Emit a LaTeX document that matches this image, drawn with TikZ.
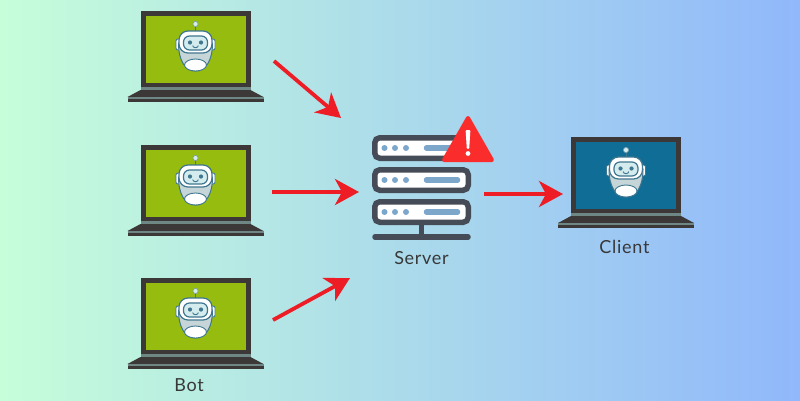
\documentclass[tikz,border=0pt]{standalone}
\usepackage{fontspec}
\setmainfont[LetterSpace=4]{Lato}
\usetikzlibrary{arrows.meta}
\definecolor{botgreen}{HTML}{95BC0E}
\definecolor{clientblue}{HTML}{106E96}
\definecolor{laptopdark}{HTML}{3D3838}
\definecolor{laptopstrip}{HTML}{6E8684}
\definecolor{robotline}{HTML}{3F7690}
\definecolor{robotbody}{HTML}{C6D6D8}
\definecolor{robotface}{HTML}{D5ECEE}
\definecolor{rackdark}{HTML}{454C57}
\definecolor{rackblue}{HTML}{7CA7CB}
\definecolor{alertred}{HTML}{FB2C2C}
\definecolor{flowred}{HTML}{EE1C25}
\definecolor{bgleft}{HTML}{C6FEDA}
\definecolor{bgmid}{HTML}{AEDBE8}
\definecolor{bgright}{HTML}{90B8FB}
\tikzset{
	flow/.style={flowred,line width=3.8pt,-{Stealth[length=24pt,width=26pt,inset=7pt]}},
	caption/.style={text=black!78,font=\fontsize{18}{21}\selectfont,inner sep=0pt},
	rack/.pic={
		\draw[rackdark,line width=5.5pt,fill=white,rounded corners=5pt] (-46.75,-10.25) rectangle (46.75,10.25);
		\foreach \x in {-37,-26.5,-15.5}
			\fill[rackblue] (\x,0) circle (3);
		\draw[rackblue,line width=5.5pt,line cap=round] (5,0) -- (36,0);
	},
	pics/laptop/.style={code={
		% lid and screen
		\fill[laptopdark] (-55,0) rectangle (55,76);
		\fill[#1] (-50,5) rectangle (50,72);
		% base
		\fill[laptopstrip] (-55,76) rectangle (55,79);
		\fill[laptopdark] (-55,79) -- (55,79) -- (68,86) -- (-68,86) -- cycle;
		\fill[laptopstrip] (-68,86) rectangle (68,88);
		\fill[laptopdark] (-68,88) rectangle (68,91);
		% robot
		\draw[robotline,line width=0.8pt] (0,15) -- (0,21);
		\filldraw[fill=robotface,draw=robotline!70,line width=0.7pt] (0,13) circle (2.6);
		\filldraw[fill=white,draw=robotline,line width=0.8pt,rounded corners=2pt] (-19.5,28) rectangle (19.5,39);
		\filldraw[fill=robotbody,draw=robotline,line width=1pt] (-17,32) .. controls (-17,50) and (-10,60) .. (0,60) .. controls (10,60) and (17,50) .. (17,32) -- cycle;
		\filldraw[fill=white,draw=robotline,line width=0.9pt] (0,54) ellipse (11 and 6);
		\filldraw[fill=white,draw=robotline,line width=1.2pt,rounded corners=9pt] (-16.5,20) rectangle (16.5,42);
		\filldraw[fill=robotface,draw=robotline,line width=1.2pt,rounded corners=6pt] (-12,25) rectangle (12,39);
		\fill[robotline] (-5.5,31.5) circle (2.1) (5.5,31.5) circle (2.1);
		\draw[robotline,line width=0.9pt] (-2.8,34.5) arc (180:360:2.8 and -2.2);
	}}
}
\begin{document}
\begin{tikzpicture}[x=1pt,y=-1pt]
	\useasboundingbox (0,0) rectangle (800,400);
	\shade[left color=bgleft,middle color=bgmid,right color=bgright] (0,0) rectangle (800,400);

	% bots and client
	\pic at (195.5,11) {laptop=botgreen};
	\pic at (195.5,145) {laptop=botgreen};
	\pic at (195.5,278) {laptop=botgreen};
	\pic at (626,137) {laptop=clientblue};
	\node[caption] (bot) at (189,385.5) {Bot};
	\node[caption] (client) at (624.5,247) {Client};

	% server
	\pic at (421.5,148) {rack};
	\pic at (421.5,180) {rack};
	\pic at (421.5,212) {rack};
	\draw[rackdark,line width=4.5pt] (421.5,224) -- (421.5,237);
	\draw[rackdark,line width=5.5pt,line cap=round] (375,237) -- (468,237);
	\node[caption] (server) at (421.5,258) {Server};

	% warning sign
	\filldraw[alertred,line width=4pt,line join=round] (468,118) -- (492,160) -- (444,160) -- cycle;
	\fill[white,rounded corners=1pt] (465.6,130) -- (470.4,130) -- (469.2,149) -- (466.8,149) -- cycle;
	\fill[white] (468,153.5) circle (2.4);

	% arrows
	\coordinate (a1) at (274,61);
	\coordinate (b1) at (341,118);
	\coordinate (a2) at (272,192);
	\coordinate (b2) at (359,192);
	\coordinate (a3) at (273,320);
	\coordinate (b3) at (350,278);
	\coordinate (a4) at (484,194);
	\coordinate (b4) at (563,194);
	\foreach \i in {1,...,4}
		\draw[flow] (a\i) -- (b\i);
\end{tikzpicture}
\end{document}
